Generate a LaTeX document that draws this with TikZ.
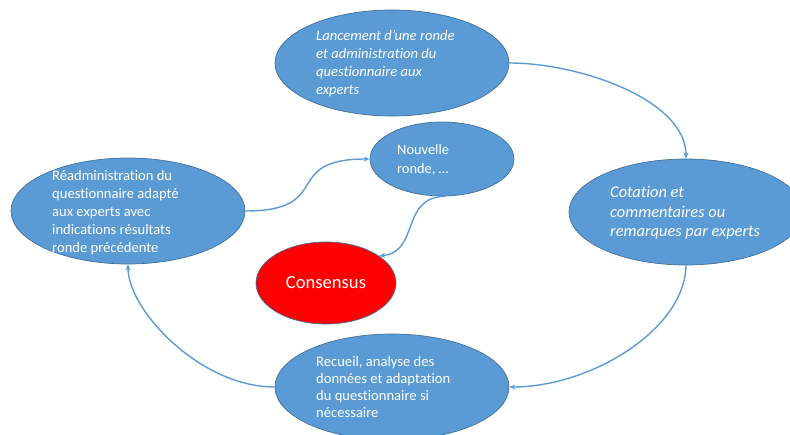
\documentclass[tikz,border=0pt]{standalone}
\usepackage{fontspec}
\setmainfont{Carlito}[Ligatures={NoCommon}]
\usetikzlibrary{shapes.geometric,arrows.meta}
\definecolor{ofblue}{HTML}{5B9BD5}
\definecolor{ofborder}{HTML}{41719C}
\definecolor{ofred}{HTML}{FF0000}
\tikzset{
  bubble/.style={ellipse, fill=ofblue, draw=ofborder, line width=0.7pt, inner sep=0pt},
  bigbubble/.style={bubble, minimum width=234pt, minimum height=106pt},
  redbubble/.style={ellipse, fill=ofred, draw=ofborder, line width=0.7pt, inner sep=0pt, minimum width=140pt, minimum height=82pt},
  txt/.style={text=white, align=left, anchor=west, inner sep=0pt, font=\fontsize{14.6}{18}\selectfont},
  itxt/.style={txt, font=\fontsize{14.6}{18}\selectfont\itshape},
  conn/.style={draw=ofblue, line width=1.4pt, -{Stealth[length=6pt,width=5pt]}}
}
\begin{document}
\begin{tikzpicture}[x=1pt,y=-1pt]
\useasboundingbox (0,0) rectangle (790,434);
% ellipses
\node[bigbubble] (T) at (392,63) {};
\node[bigbubble] (R) at (686,212) {};
\node[bigbubble] (B) at (392,387) {};
\node[bigbubble] (L) at (128,211) {};
\node[bubble, minimum width=144pt, minimum height=74pt] (N) at (442,159) {};
\node[redbubble] (C) at (326,283) {};
% texts
\node[itxt] (Tt) at (316,64) {Lancement d’une ronde\\et administration du\\questionnaire aux\\experts};
\node[itxt, font=\fontsize{16.4}{19.5}\selectfont\itshape] (Rt) at (610,213) {Cotation et\\commentaires ou\\remarques par experts};
\node[txt, font=\fontsize{14.6}{17.2}\selectfont] (Bt) at (316,387) {Recueil, analyse des\\données et adaptation\\du questionnaire si\\nécessaire};
\node[txt] (Lt) at (52,213) {Réadministration du\\questionnaire adapté\\aux experts avec\\indications résultats\\ronde précédente};
\node[txt, font=\fontsize{14.4}{18.5}\selectfont] (Nt) at (397,160) {Nouvelle\\ronde, …};
\node[text=white, inner sep=0pt, font=\fontsize{18.6}{22}\selectfont] (Ct) at (326,283) {Consensus};
% connectors
\draw[conn] (T.east) .. controls (580,63) and (686,100) .. (R.north);
\draw[conn] (R.south) .. controls (685,330) and (590,387) .. (B.east);
\draw[conn] (B.west) .. controls (200,387) and (128,310) .. (L.south);
\draw[conn] (L.east) .. controls +(90,0) and +(-90,0) .. (N.west);
\draw[conn] (N.-85) .. controls (400,197) and (420,252) .. (C.27);
\end{tikzpicture}
\end{document}
